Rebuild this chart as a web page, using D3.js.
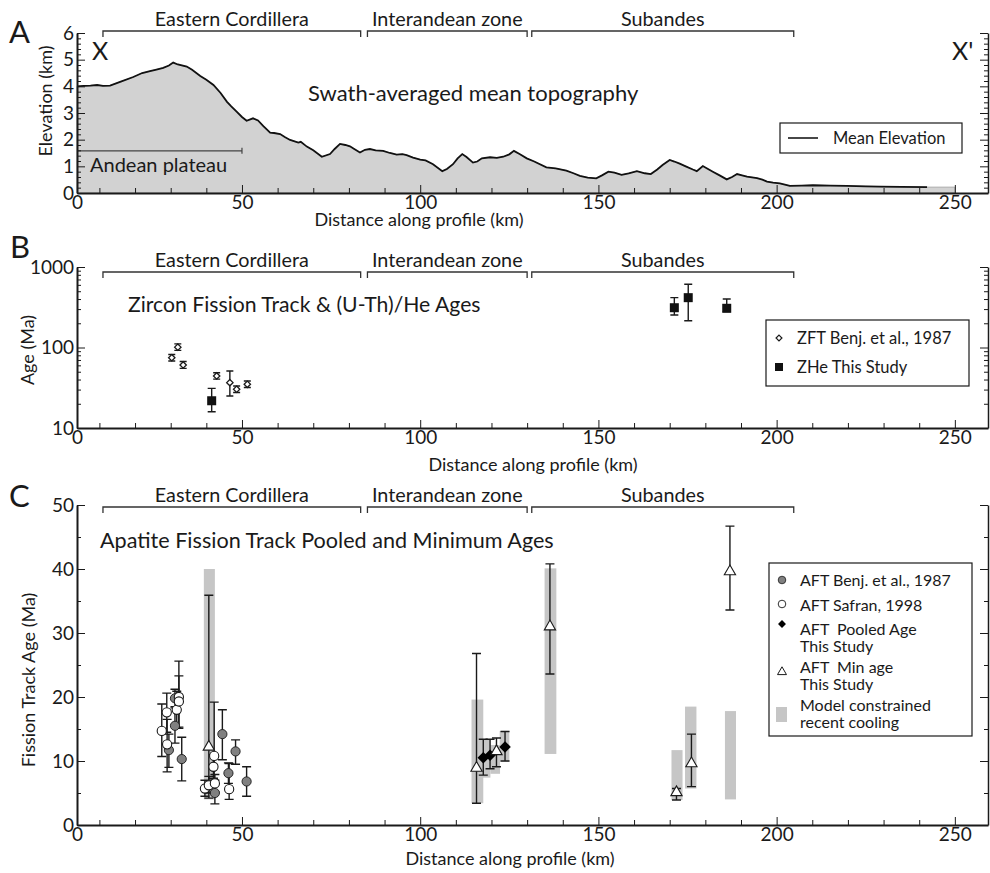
<!DOCTYPE html>
<html>
<head>
<meta charset="utf-8">
<script src="https://cdn.jsdelivr.net/npm/d3@7.9.0/dist/d3.min.js"></script>
<style>
  body { margin: 0; background: #fff; }
  svg { display: block; font-family: Lato, 'Open Sans', sans-serif; }
  text { fill: #1a1a1a; }
  .axis path, .axis line { stroke: #1a1a1a; }
  .axis text { font-family: Lato, sans-serif; font-size: 19px; fill: #1a1a1a; }
</style>
</head>
<body>
<svg id="chart" width="990" height="873"></svg>
<script>
// ---- data ----
const zones = [
  { name: 'Eastern Cordillera', start: 11, end: 83.3 },
  { name: 'Interandean zone', start: 85.2, end: 130 },
  { name: 'Subandes', start: 131.3, end: 204.8 },
];

// swath-averaged mean elevation (km) along profile (km)
const topoKm = [0, 3, 6, 9, 11, 13, 16, 19.5, 22, 24.2, 26, 27.9, 29.5, 30.7, 32, 34.5, 36, 38.3, 40, 42, 44, 45.8, 47, 48.5, 50, 51.3, 53.1, 54.5, 56, 57.9, 59, 60.7, 62, 63.5, 65.8, 66.5, 68.2, 70, 72.4, 74.7, 76, 77.5, 79, 80.3, 81.5, 83.1, 84.5, 85.9, 87.5, 89.6, 91.5, 93.4, 95, 96.2, 98, 100, 101.5, 103.6, 106.2, 107.5, 109.2, 110.5, 111.8, 113, 114.8, 116, 117.3, 119.6, 121.5, 123.3, 125, 126.3, 128, 129.9, 132, 135.4, 138, 141, 143, 144.8, 147, 149.4, 151, 152.8, 154.5, 156.5, 158.5, 160.8, 163, 164.7, 166.5, 168, 170, 171.3, 172.8, 174.5, 176.5, 177.6, 179.3, 180.5, 182.1, 184, 186, 187.5, 188.9, 190.3, 191.7, 194.5, 196, 197.3, 199, 200.9, 203.7, 207, 210.2, 215, 219.7, 225, 229, 235, 242.2];
const topoElev = [4.0, 4.02, 4.03, 4.05, 4.02, 4.03, 4.18, 4.35, 4.5, 4.57, 4.63, 4.69, 4.78, 4.89, 4.82, 4.74, 4.62, 4.39, 4.25, 4.05, 3.75, 3.42, 3.25, 3.05, 2.85, 2.71, 2.8, 2.72, 2.51, 2.26, 2.25, 2.21, 2.1, 1.99, 1.89, 1.92, 1.74, 1.6, 1.36, 1.46, 1.65, 1.84, 1.8, 1.75, 1.65, 1.52, 1.62, 1.65, 1.6, 1.58, 1.5, 1.44, 1.46, 1.42, 1.33, 1.25, 1.22, 1.08, 0.82, 0.9, 1.08, 1.3, 1.46, 1.35, 1.14, 1.18, 1.3, 1.34, 1.32, 1.36, 1.45, 1.58, 1.45, 1.3, 1.18, 0.96, 0.92, 0.84, 0.74, 0.64, 0.58, 0.55, 0.66, 0.8, 0.76, 0.68, 0.74, 0.82, 0.74, 0.71, 0.88, 1.05, 1.24, 1.18, 1.1, 1.0, 0.88, 0.82, 1.01, 0.92, 0.8, 0.66, 0.51, 0.6, 0.71, 0.66, 0.61, 0.56, 0.5, 0.43, 0.39, 0.36, 0.27, 0.28, 0.29, 0.28, 0.27, 0.25, 0.24, 0.23, 0.22];
const topoFillEnd = { km: 250, elev: 0.22 };
const plateau = { start: 0, end: 50, elev: 1.58 };

// zircon ages [km, age, lo, hi] (Ma)
const zftBenj = [
  [30.3, 74.6, 68, 82], [32.0, 101, 92, 111], [33.5, 60.7, 55, 67],
  [42.9, 44.3, 40.5, 48.5], [46.6, 36.6, 25, 51], [48.5, 30.3, 27.6, 33.2], [51.5, 34.9, 31.8, 38.3],
];
const zheStudy = [
  [41.5, 21.8, 15.9, 31.1], [171.3, 312, 253, 416], [175.2, 416, 215, 610], [186, 307, 279, 400],
];

// apatite fission track ages [km, age, lo, hi] (Ma)
const aftBenj = [
  [29.5, 11.7, 9.0, 14.2], [31.2, 15.5, 12.8, 18.3], [31.2, 19.8, 18.5, 21.2], [33.1, 10.3, 6.9, 13.7],
  [42.4, 5.0, 3.3, 7.0], [44.5, 14.2, 10.2, 18.0], [46.2, 8.1, 6.5, 9.7], [48.2, 11.5, 9.5, 13.3], [51.3, 6.8, 4.5, 9.1],
];
const aftSafran = [
  [27.5, 14.7, 10.7, 18.9], [28.9, 17.6, 14.5, 20.6], [29.0, 12.6, 8.3, 16.5], [31.7, 18.0, 15.2, 20.9],
  [32.3, 20.0, 15.1, 25.6], [32.3, 19.3, 15.3, 23.3], [39.6, 5.7, 4.5, 7.0], [40.7, 6.2, 5.0, 7.6],
  [42.0, 9.1, 7.3, 11.0], [42.2, 10.8, 7.0, 19.2], [42.4, 6.5, 5.2, 7.9], [46.4, 5.6, 4.0, 9.6],
];
const aftPooled = [[117.7, 10.5, 7.8, 13.4], [119.6, 10.9, 8.8, 13.4], [123.8, 12.2, 10.0, 14.6]];
const aftMin = [
  [40.7, 12.2, 4.2, 35.9], [115.8, 8.9, 3.4, 26.8], [121.4, 11.5, 9.1, 13.6], [136.4, 31.0, 23.6, 40.8],
  [171.9, 5.1, 3.9, 5.7], [176.1, 9.6, 6.0, 14.2], [186.9, 39.6, 33.6, 46.7],
];
// model constrained recent cooling [kmFrom, kmTo, lo, hi]
const cooling = [
  [39.3, 42.4, 4.0, 40.0], [114.4, 117.7, 3.4, 19.6], [116.8, 119.7, 7.4, 13.3], [119.7, 122.4, 8.0, 12.5],
  [122.3, 125.0, 9.9, 14.7], [134.9, 138.2, 11.1, 40.1], [170.5, 173.6, 3.9, 11.7],
  [174.3, 177.5, 5.7, 18.5], [185.5, 188.6, 4.0, 17.8],
];

const xTicks = [0, 50, 100, 150, 200, 250];

// ---- layout ----
const svg = d3.select('#chart');
const ink = '#1a1a1a';

// the plotted axis starts a little right of the true 0 km position
const x = d3.scaleLinear().domain([0, 10, 259.3]).range([77, 99.4, 988]);
const xLeft = 77;
const xRight = 988;

const yA = d3.scaleLinear().domain([0, 6]).range([193, 33]);
const yB = d3.scaleLog().domain([10, 1000]).range([428, 267]);
const yC = d3.scaleLinear().domain([0, 50]).range([825, 505]);

function xAxis(yPos) {
  const g = svg.append('g').attr('transform', `translate(0,${yPos})`);
  g.append('g').attr('class', 'axis')
    .call(d3.axisBottom(x).tickValues(d3.range(10, 259, 10).filter(d => d % 50)).tickSize(-5).tickSizeOuter(0).tickFormat(''))
    .call(s => s.select('.domain').remove());
  g.append('g').attr('class', 'axis')
    .call(d3.axisBottom(x).tickValues(xTicks).tickSize(-8).tickSizeOuter(0).tickPadding(2))
    .call(s => s.select('.domain').attr('stroke-width', 2));
}

function yAxes(scale, major, minor, fmt) {
  const left = svg.append('g').attr('transform', `translate(${xLeft},0)`);
  left.append('g').attr('class', 'axis')
    .call(d3.axisLeft(scale).tickValues(minor).tickSize(-4).tickSizeOuter(0).tickFormat(''))
    .call(s => s.select('.domain').remove());
  left.append('g').attr('class', 'axis')
    .call(d3.axisLeft(scale).tickValues(major).tickSize(-8).tickSizeOuter(0).tickPadding(3).tickFormat(fmt))
    .call(s => s.select('.domain').attr('stroke-width', 2));

  const right = svg.append('g').attr('transform', `translate(${xRight},0)`);
  right.append('g').attr('class', 'axis')
    .call(d3.axisRight(scale).tickValues(minor).tickSize(-4).tickSizeOuter(0).tickFormat(''))
    .call(s => s.select('.domain').remove());
  right.append('g').attr('class', 'axis')
    .call(d3.axisRight(scale).tickValues(major).tickSize(-8).tickSizeOuter(0).tickFormat(''))
    .call(s => s.select('.domain').attr('stroke-width', 1.5));
}

function brackets(lineY) {
  const g = svg.append('g');
  g.selectAll('path').data(zones).join('path')
    .attr('d', d => `M${x(d.start)},${lineY + 6}V${lineY}H${x(d.end)}V${lineY + 6}`)
    .attr('fill', 'none').attr('stroke', '#333').attr('stroke-width', 1.3);
  g.selectAll('text').data(zones).join('text')
    .attr('x', d => (x(d.start) + x(d.end)) / 2)
    .attr('y', lineY - 5)
    .attr('text-anchor', 'middle')
    .style('font-size', '19.8px')
    .text(d => d.name);
}

function label(txt, px, py, size, opts = {}) {
  const t = svg.append('text').attr('x', px).attr('y', py).style('font-size', size + 'px').text(txt);
  if (opts.anchor) t.attr('text-anchor', opts.anchor);
  if (opts.rotate) t.attr('transform', `rotate(-90,${px},${py})`);
  return t;
}

function errorBars(data, y, cap = 4) {
  const g = svg.append('g').attr('stroke', ink).attr('stroke-width', 1.4).attr('fill', 'none');
  g.selectAll('path').data(data).join('path')
    .attr('d', d => {
      const cx = x(d[0]);
      return `M${cx},${y(d[2])}V${y(d[3])}` +
        `M${cx - cap},${y(d[2])}H${cx + cap}M${cx - cap},${y(d[3])}H${cx + cap}`;
    });
}

const diamond = d3.symbol().type(d3.symbolDiamond2);
const tri = d3.symbol().type(d3.symbolTriangle);

// ---- Panel A ----
const topo = topoKm.map((km, i) => ({ km, elev: topoElev[i] }));

svg.append('path')
  .datum([...topo, topoFillEnd])
  .attr('fill', '#d2d2d2')
  .attr('stroke', '#9a9a9a')
  .attr('stroke-width', 0.8)
  .attr('d', d3.area().x(d => x(d.km)).y0(yA(0)).y1(d => yA(d.elev)));

svg.append('path')
  .datum(topo)
  .attr('fill', 'none')
  .attr('stroke', '#111')
  .attr('stroke-width', 1.8)
  .attr('d', d3.line().x(d => x(d.km)).y(d => yA(d.elev)));

svg.append('path')
  .attr('d', `M${x(plateau.start)},${yA(plateau.elev)}H${x(plateau.end)}M${x(plateau.end)},${yA(plateau.elev) - 3}V${yA(plateau.elev) + 3}`)
  .attr('stroke', '#444').attr('stroke-width', 1.2);
label('Andean plateau', 90, 172, 20);

xAxis(yA(0));
yAxes(yA, d3.range(0, 7), d3.range(0, 6.01, 0.2).filter(d => Math.abs(d - Math.round(d)) > 0.01), d3.format('d'));
brackets(31);

label('A', 9, 43, 31);
label('X', 92, 60, 25);
label("X'", 952, 60, 25);
label('Swath-averaged mean topography', 308, 101, 22);
label('Distance along profile (km)', 419, 226, 18, { anchor: 'middle' });
label('Elevation (km)', 52, 101, 18, { anchor: 'middle', rotate: true });

// legend A
const legA = svg.append('g').attr('transform', 'translate(780,123)');
legA.append('rect').attr('width', 182).attr('height', 30).attr('fill', '#fff').attr('stroke', ink).attr('stroke-width', 1.2);
legA.append('line').attr('x1', 8).attr('x2', 38).attr('y1', 15).attr('y2', 15).attr('stroke', ink).attr('stroke-width', 1.6);
legA.append('text').attr('x', 53).attr('y', 21).style('font-size', '16.5px').text('Mean Elevation');

// ---- Panel B ----
xAxis(yB(10));
const logMinor = [];
[10, 100].forEach(dec => d3.range(2, 10).forEach(k => logMinor.push(dec * k)));
yAxes(yB, [10, 100, 1000], logMinor, d3.format('d'));
brackets(272);

label('B', 10, 258, 31);
label('Zircon Fission Track & (U-Th)/He Ages', 128, 312, 21.2);
label('Distance along profile (km)', 533, 471, 18, { anchor: 'middle' });
label('Age (Ma)', 34, 350, 18, { anchor: 'middle', rotate: true });

errorBars(zftBenj, yB, 3.5);
errorBars(zheStudy, yB, 4);

svg.append('g').selectAll('path').data(zftBenj).join('path')
  .attr('transform', d => `translate(${x(d[0])},${yB(d[1])})`)
  .attr('d', diamond.size(26)())
  .attr('fill', '#fff').attr('stroke', ink).attr('stroke-width', 1.3);
svg.append('g').selectAll('rect').data(zheStudy).join('rect')
  .attr('x', d => x(d[0]) - 4.5).attr('y', d => yB(d[1]) - 4.5)
  .attr('width', 9).attr('height', 9).attr('fill', '#111');

const legB = svg.append('g').attr('transform', 'translate(766,320)');
legB.append('rect').attr('width', 203).attr('height', 66).attr('fill', '#fff').attr('stroke', ink).attr('stroke-width', 1.2);
legB.append('path').attr('transform', 'translate(13,18)').attr('d', diamond.size(22)())
  .attr('fill', '#fff').attr('stroke', ink).attr('stroke-width', 1.2);
legB.append('rect').attr('x', 9).attr('y', 43).attr('width', 8).attr('height', 8).attr('fill', '#111');
legB.append('text').attr('x', 31).attr('y', 24).style('font-size', '16.5px').text('ZFT Benj. et al., 1987');
legB.append('text').attr('x', 31).attr('y', 53).style('font-size', '16.5px').text('ZHe This Study');

// ---- Panel C ----
svg.append('g').selectAll('rect').data(cooling).join('rect')
  .attr('x', d => x(d[0])).attr('width', d => x(d[1]) - x(d[0]))
  .attr('y', d => yC(d[3])).attr('height', d => yC(d[2]) - yC(d[3]))
  .attr('fill', '#c6c6c6');

xAxis(yC(0));
yAxes(yC, d3.range(0, 51, 10), d3.range(5, 50, 10), d3.format('d'));
brackets(507);

label('C', 9, 507, 31);
label('Apatite Fission Track Pooled and Minimum Ages', 100, 548, 21.6);
label('Distance along profile (km)', 510, 865, 18, { anchor: 'middle' });
label('Fission Track Age (Ma)', 35, 680, 18, { anchor: 'middle', rotate: true });

errorBars([...aftSafran, ...aftBenj, ...aftPooled, ...aftMin], yC, 4.5);

svg.append('g').selectAll('circle').data(aftBenj).join('circle')
  .attr('cx', d => x(d[0])).attr('cy', d => yC(d[1])).attr('r', 4.6)
  .attr('fill', '#808080').attr('stroke', ink).attr('stroke-width', 0.9);
svg.append('g').selectAll('circle').data(aftSafran).join('circle')
  .attr('cx', d => x(d[0])).attr('cy', d => yC(d[1])).attr('r', 4.6)
  .attr('fill', '#fff').attr('stroke', ink).attr('stroke-width', 1.1);

svg.append('g').selectAll('path').data(aftPooled).join('path')
  .attr('transform', d => `translate(${x(d[0])},${yC(d[1])})`)
  .attr('d', diamond.size(85)())
  .attr('fill', '#000');
svg.append('g').selectAll('path').data(aftMin).join('path')
  .attr('transform', d => `translate(${x(d[0])},${yC(d[1])})`)
  .attr('d', tri.size(55)())
  .attr('fill', '#fff').attr('stroke', ink).attr('stroke-width', 1.1);

const legC = svg.append('g').attr('transform', 'translate(769,563)');
legC.append('rect').attr('width', 203).attr('height', 173).attr('fill', '#fff').attr('stroke', ink).attr('stroke-width', 1.2);
legC.append('circle').attr('cx', 13).attr('cy', 17).attr('r', 3.8).attr('fill', '#808080').attr('stroke', ink).attr('stroke-width', 0.8);
legC.append('circle').attr('cx', 13).attr('cy', 41).attr('r', 3.8).attr('fill', '#fff').attr('stroke', ink).attr('stroke-width', 0.9);
legC.append('path').attr('transform', 'translate(13,61)').attr('d', diamond.size(40)()).attr('fill', '#000');
legC.append('path').attr('transform', 'translate(13,109)').attr('d', tri.size(35)()).attr('fill', '#fff').attr('stroke', ink).attr('stroke-width', 1);
legC.append('rect').attr('x', 7).attr('y', 144).attr('width', 11).attr('height', 15).attr('fill', '#c6c6c6');
const legCText = [
  ['AFT Benj. et al., 1987', 23], ['AFT Safran, 1998', 48], ['AFT  Pooled Age', 72], ['This Study', 89],
  ['AFT  Min age', 110], ['This Study', 127], ['Model constrained', 148], ['recent cooling', 165],
];
legC.selectAll('text.l').data(legCText).join('text')
  .attr('x', 31).attr('y', d => d[1]).style('font-size', '16px').style('white-space', 'pre')
  .text(d => d[0]);
</script>
</body>
</html>
